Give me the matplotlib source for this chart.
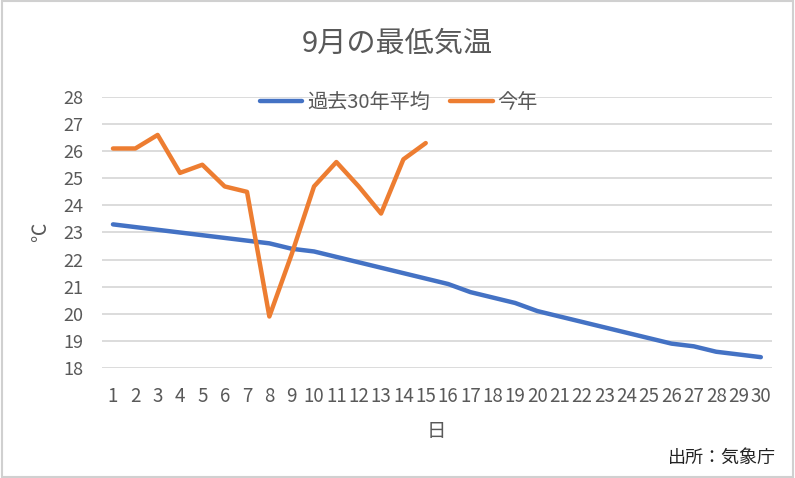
import matplotlib
matplotlib.use("Agg")
import matplotlib.pyplot as plt
from matplotlib.patches import Rectangle

plt.rcParams['font.family'] = ['Noto Sans CJK JP', 'DejaVu Sans']

days = list(range(1, 31))
avg30 = [23.3, 23.2, 23.1, 23.0, 22.9, 22.8, 22.7, 22.6, 22.4, 22.3,
         22.1, 21.9, 21.7, 21.5, 21.3, 21.1, 20.8, 20.6, 20.4, 20.1,
         19.9, 19.7, 19.5, 19.3, 19.1, 18.9, 18.8, 18.6, 18.5, 18.4]
this_year_days = list(range(1, 16))
this_year = [26.1, 26.1, 26.6, 25.2, 25.5, 24.7, 24.5, 19.9, 22.2, 24.7,
             25.6, 24.7, 23.7, 25.7, 26.3]
yticks = list(range(18, 29))

gray = '#595959'
fig = plt.figure(figsize=(7.95, 4.78), dpi=100)
ax = fig.add_axes([101.8/795, 1-368/478, (772-101.8)/795, (368-97)/478])

ax.plot(days, avg30, color='#4472C4', lw=3.2, solid_capstyle='round', solid_joinstyle='round', label='過去30年平均')
ax.plot(this_year_days, this_year, color='#ED7D31', lw=3.2, solid_capstyle='round', solid_joinstyle='round', label='今年')

ax.set_xlim(0.5, 30.5)
ax.set_ylim(18, 28)
ax.set_yticks(yticks)
ax.set_xticks(days)
ax.set_xticklabels([str(d) for d in days])
ax.grid(axis='y', color='#D9D9D9', lw=1.3)
ax.set_axisbelow(True)
for s in ax.spines.values():
    s.set_visible(False)
ax.tick_params(axis='both', length=0, labelcolor=gray, labelsize=13)
ax.tick_params(axis='x', labelsize=13.5)
ax.tick_params(axis='y', pad=13)
ax.tick_params(axis='x', pad=13)

fig.text(397/795, 1-44/478, '9月の最低気温', ha='center', va='center', fontsize=21, color=gray)
fig.text(41/795, 1-232/478, '℃', ha='center', va='center', fontsize=14, color=gray, rotation=90)
fig.text(436/795, 1-432/478, '日', ha='center', va='center', fontsize=14, color=gray)
fig.text(776/795, 1-458/478, '出所：気象庁', ha='right', va='center', fontsize=13, color='#222222')

leg = fig.legend(loc='center', bbox_to_anchor=(399/795, 1-103/478), ncol=2, frameon=False,
                 fontsize=14.5, handlelength=2.1, columnspacing=1.0, handletextpad=0.25)
for t in leg.get_texts():
    t.set_color(gray)

fig.patches.append(Rectangle((0.002, 0.003), 0.996, 0.994, transform=fig.transFigure,
                             fill=False, edgecolor='#D0D0D0', lw=1.5))

fig.savefig('out.png', dpi=100)
